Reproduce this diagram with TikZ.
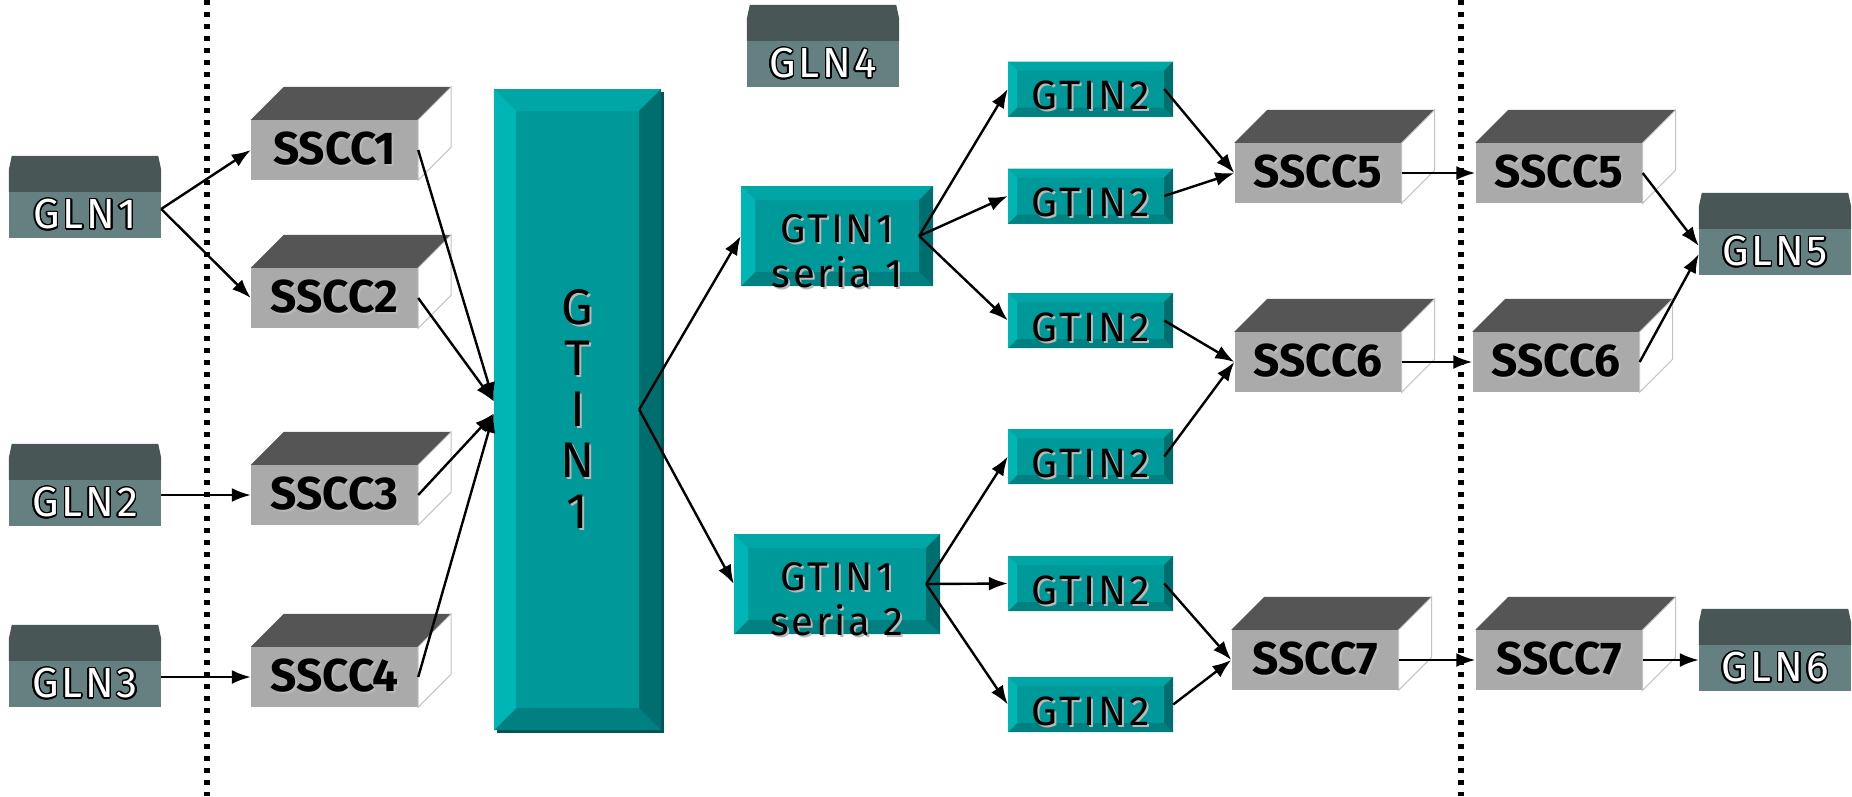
\documentclass[tikz,border=0pt]{standalone}
\usepackage{fontspec}
\setmainfont{Fira Sans}
\newfontfamily\widefont[LetterSpace=7]{Fira Sans}
\usepackage{contour}
\contourlength{1.5pt}
\usepackage{tikz}
\usetikzlibrary{arrows.meta}
\usetikzlibrary{shadows}

\definecolor{ssccfront}{RGB}{170,170,170}
\definecolor{sscctop}{RGB}{85,85,85}
\definecolor{ssccedge}{RGB}{195,195,195}
\definecolor{glnfront}{RGB}{100,128,128}
\definecolor{glntop}{RGB}{72,86,86}
\definecolor{tealmain}{RGB}{0,153,153}
\definecolor{tealleft}{RGB}{0,181,181}
\definecolor{tealtop}{RGB}{0,166,166}
\definecolor{tealright}{RGB}{0,110,110}
\definecolor{tealbottom}{RGB}{0,128,128}
\definecolor{tealshadow}{RGB}{0,85,85}
\definecolor{textshadow}{RGB}{185,185,185}

\newcommand{\shtext}[1]{\makebox[0pt][l]{\hspace*{2pt}\raisebox{-2pt}{\textcolor{textshadow}{#1}}}#1}

\tikzset{
  gln/.style={fill=glnfront, text=white, minimum width=152pt, minimum height=46pt, inner sep=0pt,
    font=\fontsize{42pt}{44pt}\widefont},
  sscc/.style={fill=ssccfront, minimum width=167pt, minimum height=60pt, inner sep=0pt,
    font=\fontsize{46pt}{50pt}\selectfont\bfseries},
  bevel/.style={fill=tealmain, inner sep=0pt, path picture={
      \coordinate (bnw) at (path picture bounding box.north west);
      \coordinate (bne) at (path picture bounding box.north east);
      \coordinate (bse) at (path picture bounding box.south east);
      \coordinate (bsw) at (path picture bounding box.south west);
      \coordinate (inw) at ([shift={(#1,-#1)}]bnw);
      \coordinate (ine) at ([shift={(-#1,-#1)}]bne);
      \coordinate (ise) at ([shift={(-#1,#1)}]bse);
      \coordinate (isw) at ([shift={(#1,#1)}]bsw);
      \fill[tealtop] (bnw) -- (bne) -- (ine) -- (inw) -- cycle;
      \fill[tealbottom] (bsw) -- (bse) -- (ise) -- (isw) -- cycle;
      \fill[tealleft] (bnw) -- (bsw) -- (isw) -- (inw) -- cycle;
      \fill[tealright] (bne) -- (bse) -- (ise) -- (ine) -- cycle;
    }},
  gtinbig/.style={bevel=22pt, minimum width=167pt, minimum height=641pt, align=center,
    font=\fontsize{50pt}{51pt}\selectfont,
    drop shadow={shadow xshift=3pt, shadow yshift=-3pt, fill=tealshadow, opacity=1}},
  sertext/.style={align=center, font=\fontsize{40pt}{45pt}\widefont, yshift=-16pt},
  gtinser/.style={bevel=14pt, minimum height=100pt, label={[sertext]center:{#1}}},
  gtinitem/.style={bevel=9pt, minimum width=165pt, minimum height=55pt, text height=41pt, text depth=0pt,
    font=\fontsize{41pt}{44pt}\widefont},
  conn/.style={every edge/.append style={line width=2.4pt}},
  divider/.style={-, line width=5.5pt, dash pattern=on 5pt off 7pt},
}

% GLN location: text part plus dark roof
\newcommand{\glnbox}[3]{%
  \node[gln] (#1) at (#2) {\contour{black}{#3}};
  \fill[glntop] (#1.north west) -- ++(0pt,22pt) -- ++(3pt,14pt)
    -- ([shift={(-3pt,36pt)}]#1.north east) -- ++(3pt,-14pt) -- (#1.north east) -- cycle;
}
% SSCC unit: front face plus top and side
\newcommand{\ssccbox}[3]{%
  \node[sscc] (#1) at (#2) {\shtext{#3}};
  \fill[sscctop] (#1.north west) -- ++(33pt,33pt) -- ([shift={(33pt,33pt)}]#1.north east)
    -- (#1.north east) -- cycle;
  \filldraw[fill=white, draw=ssccedge, line width=1pt] (#1.north east) -- ++(33pt,33pt)
    -- ([shift={(33pt,33pt)}]#1.south east) -- (#1.south east) -- cycle;
}

\begin{document}
\begin{tikzpicture}[x=1pt, y=-1pt, ->, >={Latex[length=19pt,width=14pt]}]
  \fill[white] (0,0) rectangle (1852,796);
  \useasboundingbox (0,0) rectangle (1852,796);

  \draw[divider] (207,0) -- (207,796);
  \draw[divider] (1461,0) -- (1461,796);

  \glnbox{gln1}{85,215}{GLN1}
  \glnbox{gln2}{85,503}{GLN2}
  \glnbox{gln3}{85,684}{GLN3}
  \glnbox{gln4}{823,64}{GLN4}
  \glnbox{gln5}{1775,252}{GLN5}
  \glnbox{gln6}{1775,668}{GLN6}

  \ssccbox{sscc1}{334.5,150}{SSCC1}
  \ssccbox{sscc2}{334.5,298}{SSCC2}
  \ssccbox{sscc3}{334.5,495}{SSCC3}
  \ssccbox{sscc4}{334.5,677}{SSCC4}

  \node[gtinbig] (gtin1) at (577.5,409.5)
    {\shtext{G}\\\shtext{T}\\\shtext{I}\\\shtext{N}\\\shtext{1}};

  \node[gtinser={\shtext{GTIN1}\\\shtext{seria 1}}, minimum width=192pt] (ser1) at (837,236) {};
  \node[gtinser={\shtext{GTIN1}\\\shtext{seria 2}}, minimum width=206pt] (ser2) at (837,584) {};

  \node[gtinitem] (g2a) at (1090.5,89) {\shtext{GTIN2}};
  \node[gtinitem] (g2b) at (1090.5,196) {\shtext{GTIN2}};
  \node[gtinitem] (g2c) at (1090.5,320.5) {\shtext{GTIN2}};
  \node[gtinitem] (g2d) at (1090.5,456.5) {\shtext{GTIN2}};
  \node[gtinitem] (g2e) at (1090.5,583.5) {\shtext{GTIN2}};
  \node[gtinitem] (g2f) at (1090.5,704.5) {\shtext{GTIN2}};

  \ssccbox{sscc5m}{1318,173}{SSCC5}
  \ssccbox{sscc6m}{1318,362}{SSCC6}
  \ssccbox{sscc7m}{1315,660}{SSCC7}

  \ssccbox{sscc5r}{1559,173}{SSCC5}
  \ssccbox{sscc6r}{1556,362}{SSCC6}
  \ssccbox{sscc7r}{1559,660}{SSCC7}

  \path[conn]
    ([yshift=6pt]gln1.east) edge (sscc1.west)
    ([yshift=6pt]gln1.east) edge (sscc2.west)
    (gln2.east |- sscc3.west) edge (sscc3.west)
    (gln3.east |- sscc4.west) edge (sscc4.west)
    (sscc1.east) edge ([yshift=8pt]gtin1.west)
    (sscc2.east) edge ([yshift=8pt]gtin1.west)
    (sscc3.east) edge ([yshift=-4pt]gtin1.west)
    (sscc4.east) edge ([yshift=-4pt]gtin1.west)
    ([xshift=-22pt]gtin1.east) edge (ser1.west)
    ([xshift=-22pt]gtin1.east) edge (ser2.west)
    ([xshift=-14pt]ser1.east) edge (g2a.west)
    ([xshift=-14pt]ser1.east) edge (g2b.west)
    ([xshift=-14pt]ser1.east) edge (g2c.west)
    ([xshift=-14pt]ser2.east) edge (g2d.west)
    ([xshift=-14pt]ser2.east) edge (g2e.west)
    ([xshift=-14pt]ser2.east) edge (g2f.west)
    ([xshift=-9pt]g2a.east) edge (sscc5m.west)
    ([xshift=-9pt]g2b.east) edge (sscc5m.west)
    ([xshift=-9pt]g2c.east) edge (sscc6m.west)
    ([xshift=-9pt]g2d.east) edge (sscc6m.west)
    ([xshift=-9pt]g2e.east) edge (sscc7m.west)
    (g2f.east) edge (sscc7m.west)
    (sscc5m.east) edge (sscc5r.west)
    (sscc6m.east) edge (sscc6r.west)
    (sscc7m.east) edge (sscc7r.west)
    (sscc5r.east) edge ([yshift=6pt]gln5.west)
    (sscc6r.east) edge ([yshift=-2pt]gln5.west)
    (sscc7r.east) edge (gln6.west |- sscc7r.east);
\end{tikzpicture}
\end{document}
